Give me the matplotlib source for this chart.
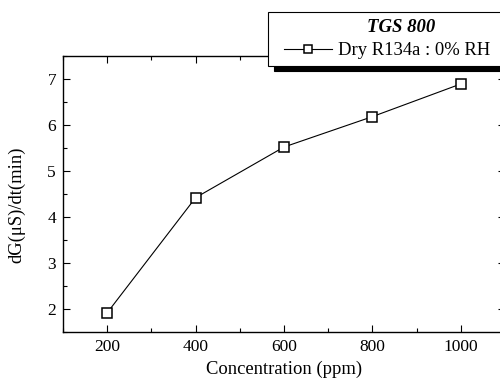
import matplotlib.pyplot as plt
from matplotlib.lines import Line2D
from matplotlib.legend_handler import HandlerLine2D
from matplotlib.ticker import MultipleLocator

plt.rcParams['font.family'] = ['Liberation Serif', 'DejaVu Serif']

concentration = [200, 400, 600, 800, 1000]
rate = [1.92, 4.42, 5.52, 6.18, 6.89]
series_label = 'Dry R134a : 0% RH'
legend_title = 'TGS 800'

fig = plt.figure(figsize=(5, 3.8), dpi=100)
ax = fig.add_axes([0.126, 0.126, 0.884, 0.727])

ax.plot(concentration, rate, color='black', lw=0.8, marker='s', ms=7,
        mfc='white', mec='black', mew=1.1, label=series_label)

ax.set_xlim(100, 1100)
ax.set_ylim(1.5, 7.5)
ax.xaxis.set_major_locator(MultipleLocator(200))
ax.xaxis.set_minor_locator(MultipleLocator(100))
ax.yaxis.set_major_locator(MultipleLocator(1))
ax.yaxis.set_minor_locator(MultipleLocator(0.5))
ax.tick_params(which='both', direction='in', top=True, right=True,
               labelsize=12.5, width=0.8)
ax.tick_params(which='major', length=5, pad=5)
ax.tick_params(which='minor', length=3)
for s in ax.spines.values():
    s.set_linewidth(1.0)

ax.set_xlabel('Concentration (ppm)', fontsize=13.4, labelpad=4)
ax.set_ylabel('dG(μS)/dt(min)', fontsize=13.4)
ax.yaxis.set_label_coords(-0.084, 0.46)

# legend box runs off the right edge, with a solid drop shadow
leg = ax.legend(loc='upper left', bbox_to_anchor=(0.536, 0.968, 0.532, 0.0),
                bbox_transform=fig.transFigure, mode='expand',
                borderaxespad=0, fontsize=13.4, markerscale=0.75,
                title=legend_title, fancybox=False, framealpha=1,
                edgecolor='black', handlelength=3.1, handletextpad=0.3,
                borderpad=0.35, labelspacing=0.35,
                handler_map={Line2D: HandlerLine2D(xpad=0.5)},
                shadow={'color': 'black', 'alpha': 1, 'ox': 4, 'oy': -4})
leg.get_title().set_fontweight('bold')
leg.get_title().set_fontstyle('italic')
leg.get_title().set_fontsize(13.5)
leg.get_frame().set_linewidth(0.8)
leg.set_zorder(5)

fig.savefig('out.png', dpi=100)
